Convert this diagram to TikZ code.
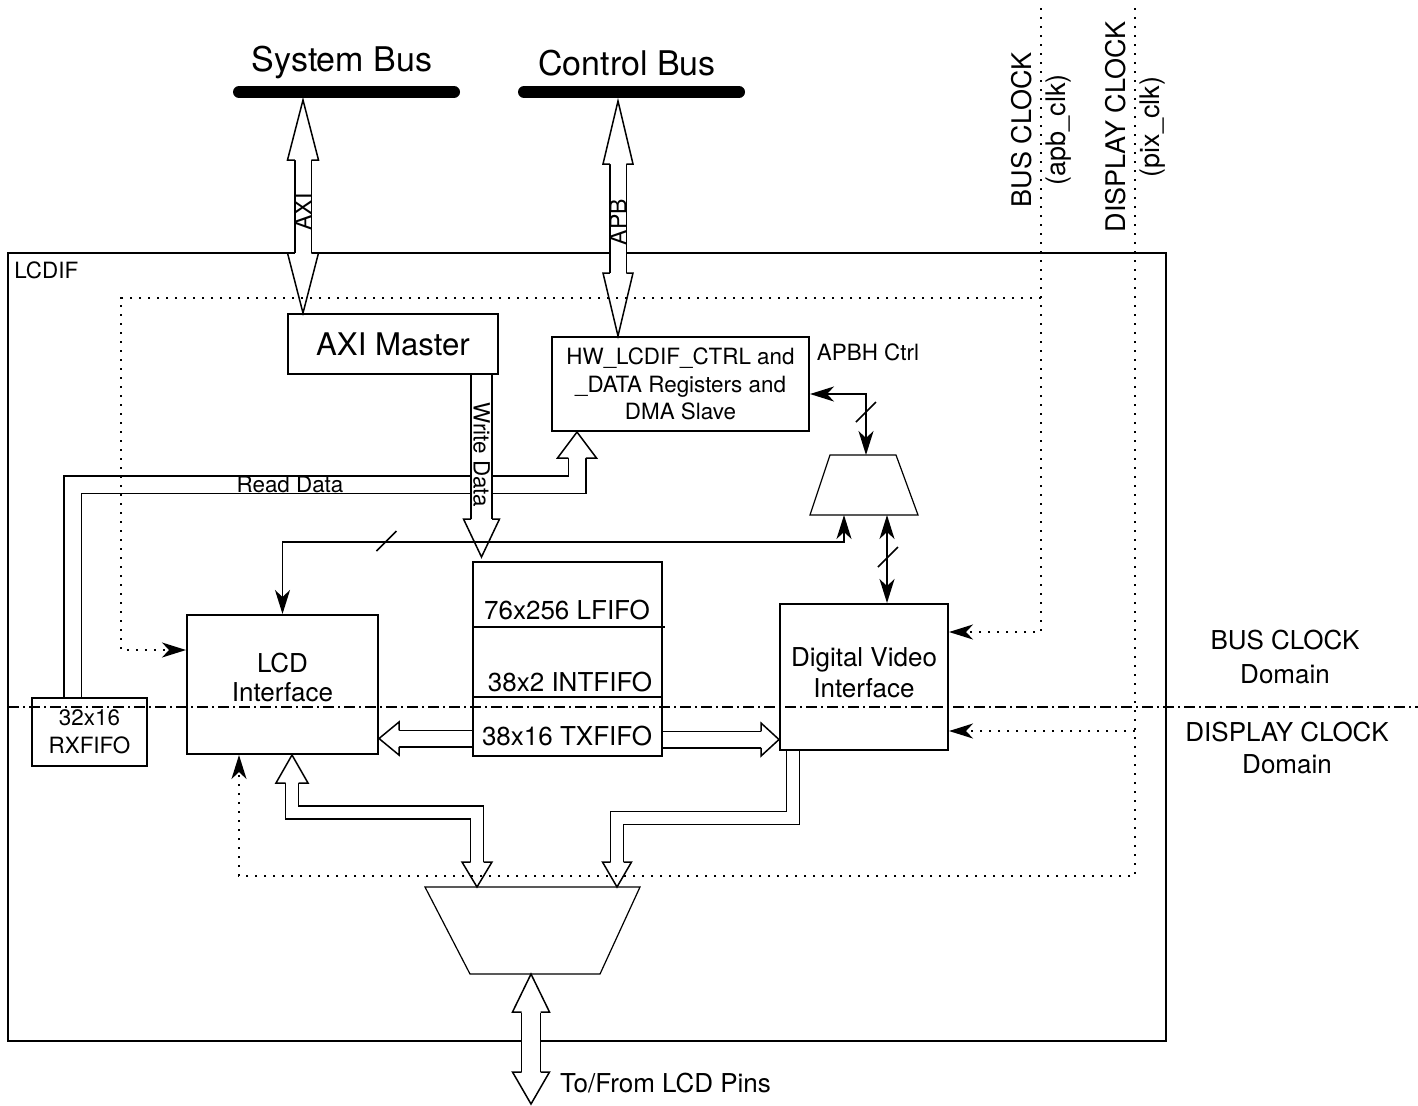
\documentclass[tikz,border=0pt]{standalone}
\usepackage{fontspec}
\setmainfont{TeX Gyre Heros}
\usepackage{tikz}
\usetikzlibrary{arrows.meta, shapes.geometric, positioning, calc}

\tikzset{
  blk/.style={draw, line width=1pt, inner sep=0pt, align=center},
  bigtxt/.style={font=\fontsize{17pt}{20pt}\selectfont},
  axitxt/.style={font=\fontsize{15.6pt}{18pt}\selectfont},
  midtxt/.style={font=\fontsize{13pt}{15.5pt}\selectfont, align=center},
  smalltxt/.style={font=\fontsize{11.2pt}{14pt}\selectfont, align=center},
  clktxt/.style={font=\fontsize{13.5pt}{17pt}\selectfont, align=center},
  bus/.style={line width=6pt, line cap=round},
  sig/.style={line width=0.8pt},
  clk/.style={line width=0.75pt, dash pattern=on 1.2pt off 3.3pt},
  domline/.style={line width=0.75pt, dash pattern=on 5.5pt off 2pt on 1pt off 2pt},
  shaft/.style={double, double distance=#1, line width=0.75pt, line join=miter},
  mux/.style={draw, line width=0.6pt, line join=miter},
  slash/.pic={\draw[line width=0.8pt] (-10,10) -- (10,-10);}
}

% block arrow head: tip, direction, half width, length, shaft half width
\newcommand\bhead[5]{%
  \filldraw[fill=white, line width=0.75pt, line join=miter]
    ($(#1)+({#2+180}:#4)+({#2+90}:#5)$) -- ($(#1)+({#2+180}:#4)+({#2+90}:#3)$) -- (#1)
    -- ($(#1)+({#2+180}:#4)+({#2-90}:#3)$) -- ($(#1)+({#2+180}:#4)+({#2-90}:#5)$);}

\begin{document}
\begin{tikzpicture}[x=0.5pt, y=-0.5pt, >={Stealth[length=12pt, width=7.5pt, inset=3.5pt]}]
\useasboundingbox (0,0) rectangle (1418,1105);

\node[bigtxt] (sysbus) at (342,62) {System Bus};
\node[bigtxt] (ctrlbus) at (627,63) {Control Bus};
\draw[bus] (239,92) -- (454,92);
\draw[bus] (524,92) -- (739,92);

\node[blk, line width=1.2pt, minimum width=579pt, minimum height=394pt] (lcdif) at (587,647) {};
\node[smalltxt, anchor=north west, inner sep=0pt] (lcdiflbl) at (14,261) {LCDIF};

\node[blk, axitxt, minimum width=105pt, minimum height=30pt] (axim) at (393,344) {AXI Master};
\node[blk, smalltxt, minimum width=128.5pt, minimum height=47pt,
      font=\fontsize{11.2pt}{13.75pt}\selectfont] (regs) at (680.5,384)
  {HW\_LCDIF\_CTRL and\\\_DATA Registers and\\DMA Slave};
\node[smalltxt] (apbh) at (868,352) {APBH Ctrl};
\draw[mux] (830,455) coordinate (dmuxn) -- (896,455) -- (918,515) -- (810,515) -- cycle;
\coordinate (dmuxs) at (864,515);

\node[blk, smalltxt, minimum width=57.5pt, minimum height=34pt] (rx) at (89.5,732) {32x16\\RXFIFO};
\node[blk, minimum width=95.5pt, minimum height=69.5pt] (lcd) at (282.5,684.5) {};
\node[midtxt, font=\fontsize{13pt}{14.5pt}\selectfont] (lcdtxt) at (282.5,677) {LCD\\Interface};
\node[blk, minimum width=94.5pt, minimum height=97pt] (fifo) at (567.5,659) {};
\node[midtxt] (lfifo) at (567,610) {76x256 LFIFO};
\node[midtxt] (intfifo) at (570,682) {38x2 INTFIFO};
\node[midtxt] (txfifo) at (567,736) {38x16 TXFIFO};
\draw[line width=1pt] (fifo.west |- 0,627) -- (665,627);
\draw[line width=1pt] (fifo.west |- 0,697) -- (fifo.east |- 0,697);
\node[blk, minimum width=84pt, minimum height=73pt] (dvi) at (864,677) {};
\node[midtxt] (dvitxt) at (864,673) {Digital Video\\Interface};
\draw[mux] (425,887) coordinate (pmuxn) -- (640,887) -- (600,974) -- (470,974) -- cycle;
\coordinate (pmuxs) at (531,974);

\node[midtxt, font=\fontsize{13pt}{17pt}\selectfont] (busdom) at (1285,657) {BUS CLOCK\\Domain};
\node[midtxt, font=\fontsize{13pt}{16pt}\selectfont] (dispdom) at (1287,748) {DISPLAY CLOCK\\Domain};
\node[clktxt, rotate=90] (busclk) at (1041,130) {BUS CLOCK\\(apb\_clk)};
\node[clktxt, rotate=90] (dispclk) at (1135,127) {DISPLAY CLOCK\\(pix\_clk)};
\node[midtxt, anchor=west] (pins) at (553,1083) {To/From LCD Pins};

% bus arrows
\draw[shaft=7.5pt] (303,160) -- (303,254);
\bhead{303,100}{-90}{15.5}{60}{8.25}
\bhead{303,0 |- axim.north}{90}{15.5}{60}{8.25}
\node[smalltxt, rotate=90, font=\fontsize{11.5pt}{14pt}\selectfont] (axilbl) at (303,212) {AXI};
\draw[shaft=7.5pt] (618,164) -- (618,274);
\bhead{618,101}{-90}{15}{63}{8.25}
\bhead{618,0 |- regs.north}{90}{15}{63}{8.25}
\node[smalltxt, rotate=90, font=\fontsize{11.5pt}{14pt}\selectfont] (apblbl) at (618,222) {APB};

% data paths
\draw[shaft=8pt] (72.5,0 |- rx.north) -- (72.5,484.5) -- (577,484.5) -- (577,457);
\bhead{577,0 |- regs.south}{-90}{19.5}{26}{8.75}
\node[smalltxt] (rdlbl) at (290,484) {Read Data};
\draw[shaft=9.75pt] (481.5,0 |- axim.south) -- (481.5,519);
\bhead{481.5,557}{90}{18}{38}{10.5}
\node[smalltxt, rotate=-90] (wrlbl) at (481.5,455) {Write Data};

\draw[shaft=7.5pt] (fifo.west |- 0,738.5) -- (398,738.5);
\bhead{lcd.east |- 0,738.5}{180}{16.5}{20}{8.25}
\draw[shaft=7.5pt] (fifo.east |- 0,739.5) -- (762,739.5);
\bhead{dvi.west |- 0,739.5}{0}{16.5}{18}{8.25}

\draw[shaft=5.7pt] (292,782) -- (292,812.5) -- (477,812.5) -- (477,862);
\bhead{292,0 |- lcd.south}{-90}{16}{28}{6.5}
\bhead{477,0 |- pmuxn}{90}{15}{25}{6.5}
\draw[shaft=5.7pt] (793,0 |- dvi.south) -- (793,818) -- (617,818) -- (617,862);
\bhead{617,0 |- pmuxn}{90}{14.5}{25}{6.5}

\draw[shaft=8.75pt] (531,1013) -- (531,1072);
\bhead{pmuxs}{-90}{18.5}{38}{9.5}
\bhead{531,1104}{90}{18.5}{32}{9.5}

% control lines
\draw[sig, <->] (regs.east |- 0,394) -| (866,0 |- dmuxn);
\draw[sig, <->] (lcd.north) |- (844,542) -- (844,0 |- dmuxs);
\draw[sig, <->] (887,0 |- dmuxs) -- (887,0 |- dvi.north);
\pic at (866,412) {slash};
\pic at (386.5,541) {slash};
\pic at (888,557) {slash};

% clocks
\draw[clk, ->] (1041,8) -- (1041,632) -- (dvi.east |- 0,632);
\draw[clk, ->] (1041,298) -- (121,298) -- (121,650) -- (lcd.west |- 0,650);
\draw[clk, ->] (1135,8) -- (1135,876) -- (239,876) -- (239,0 |- lcd.south);
\draw[clk, ->] (1135,731) -- (dvi.east |- 0,731);
\draw[domline] (8,707) -- (1418,707);
\end{tikzpicture}
\end{document}
